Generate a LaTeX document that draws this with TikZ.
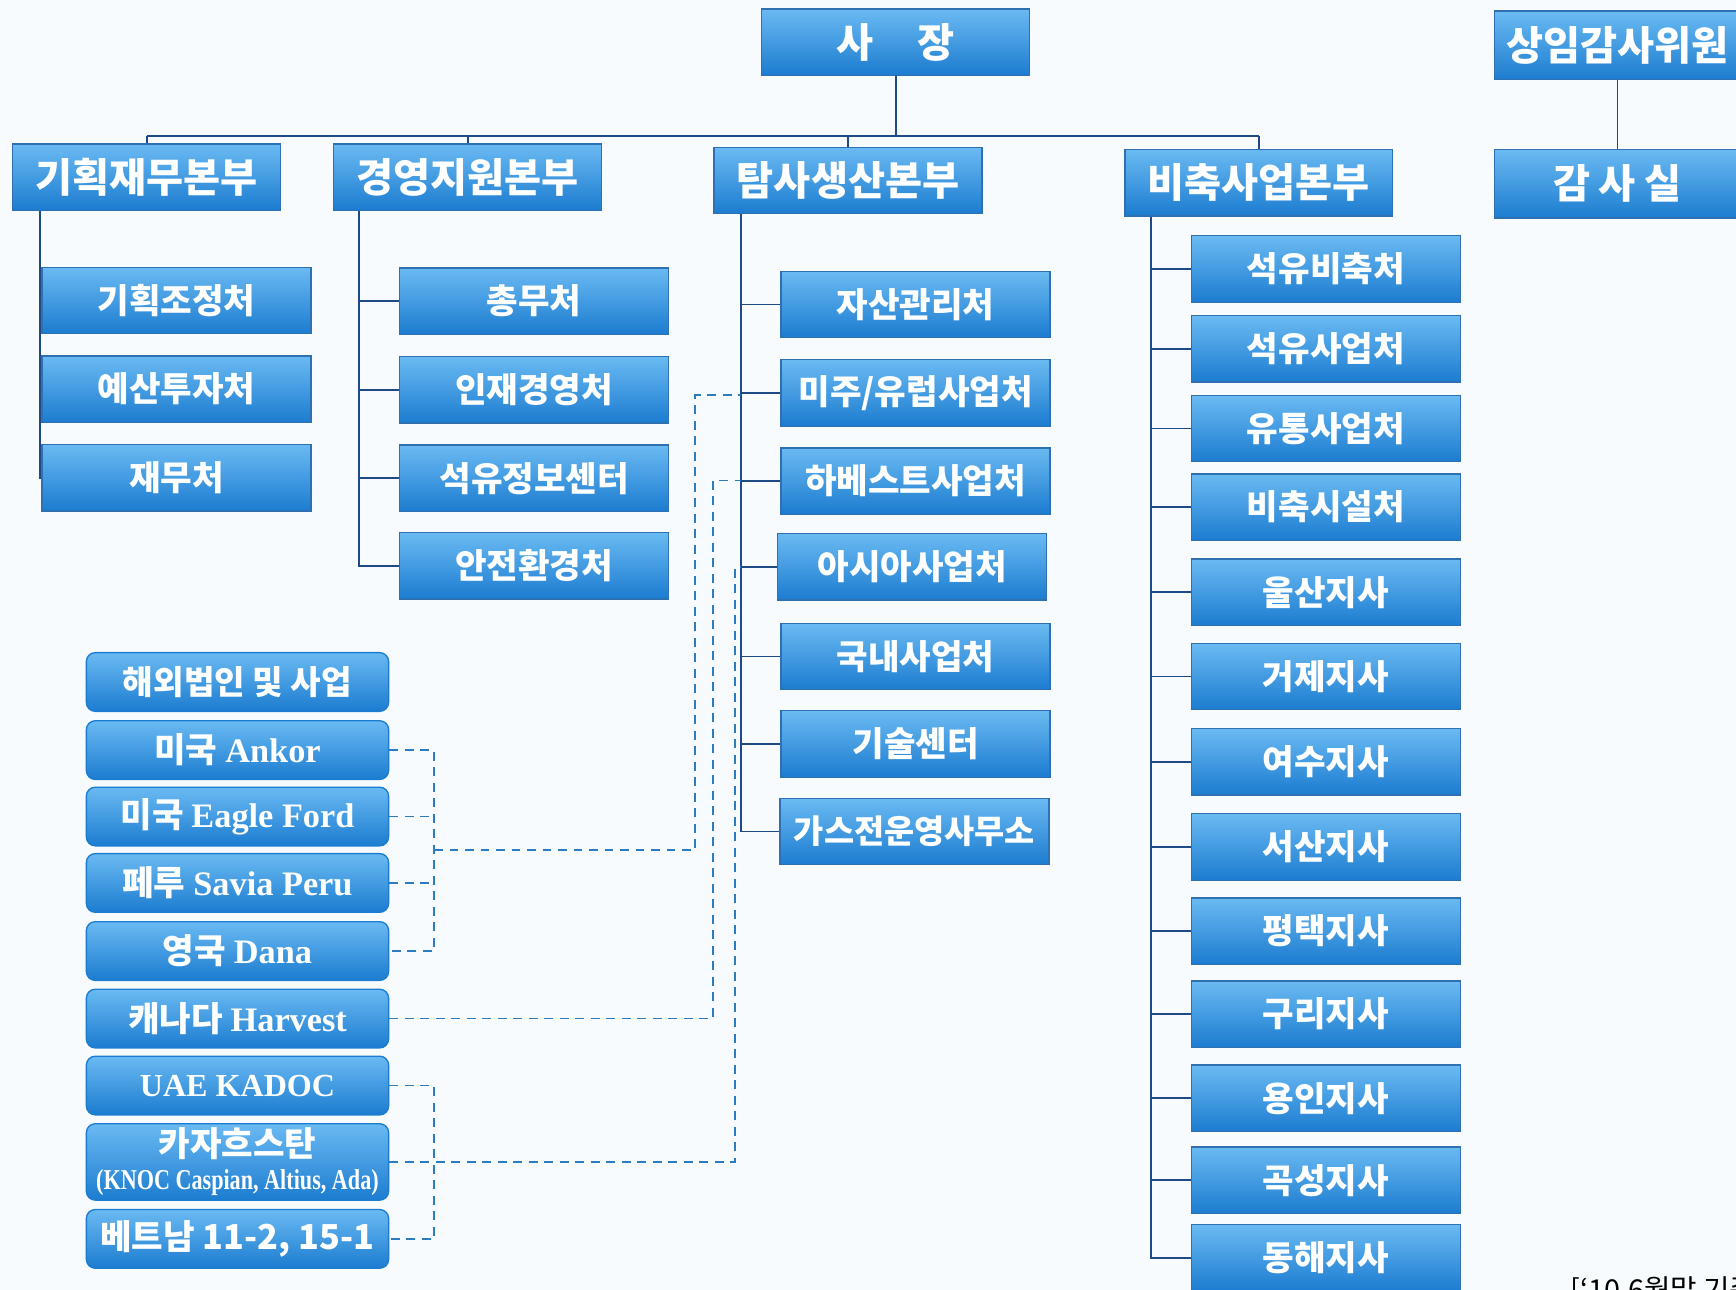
\documentclass[tikz,border=0pt]{standalone}
\usepackage{fontspec}
\setmainfont{Noto Sans CJK KR}
\newfontfamily\engfont{Liberation Serif}
\newfontfamily\engnarrow{Liberation Serif}[FakeStretch=0.77]
\definecolor{boxtop}{RGB}{106,186,242}
\definecolor{boxbot}{RGB}{28,124,208}
\definecolor{boxedge}{RGB}{46,112,178}
\definecolor{linkblue}{RGB}{30,74,134}
\definecolor{dashblue}{RGB}{44,124,192}
\definecolor{paper}{RGB}{247,251,254}

\begin{document}
\begin{tikzpicture}[
  x=0.5pt, y=-0.5pt,
  font=\fontsize{15.5}{17}\selectfont\bfseries,
  unit/.style={draw=boxedge, line width=0.6pt, top color=boxtop, bottom color=boxbot, text=white, inner sep=0pt},
  topbox/.style={unit, minimum width=121pt, minimum height=30pt, font=\fontsize{18.2}{20}\selectfont\bfseries},
  subbox/.style={unit, minimum width=121.5pt, minimum height=30pt},
  abroad/.style={unit, draw=boxbot, rounded corners=4pt, minimum width=136.5pt, minimum height=26.5pt},
  link/.style={draw=linkblue, line width=0.8pt},
  dlink/.style={draw=dashblue, line width=0.8pt, dash pattern=on 4pt off 3pt}
]
% Page and background
\useasboundingbox (0,0) rectangle (1568,1165);
\clip (0,0) rectangle (1568,1165);
\fill[paper] (0,0) rectangle (1568,1165);

% Top level
\node[topbox] (ceo) at (809,38) {사\hspace{20pt}장};
\node[topbox, minimum width=111pt, minimum height=31pt] (auditor) at (1461,41) {상임감사위원};
\node[topbox, minimum width=111pt, minimum height=31pt] (audit) at (1461,166) {감\hspace{4pt}사\hspace{4pt}실};

% Headquarters
\node[topbox] (plan) at (132.5,160) {기획재무본부};
\node[topbox] (mgmt) at (422.5,160) {경영지원본부};
\node[topbox] (expl) at (766,163) {탐사생산본부};
\node[topbox] (stock) at (1137,165) {비축사업본부};

% Bus from the president to the headquarters
\coordinate (bus) at (809,123);
\draw[link] (ceo.south) -- (bus);
\draw[link] (plan.north |- bus) -- (stock.north |- bus);
\draw[link] (plan.north) -- (plan.north |- bus);
\draw[link] (mgmt.north) -- (mgmt.north |- bus);
\draw[link] (expl.north) -- (expl.north |- bus);
\draw[link] (stock.north) -- (stock.north |- bus);
\draw[link] (auditor.south) -- (audit.north);

% Planning and finance
\node[subbox] (p1) at (159.5,271.5) {기획조정처};
\node[subbox] (p2) at (159.5,351.5) {예산투자처};
\node[subbox] (p3) at (159.5,431.5) {재무처};
\coordinate (spineA) at ([xshift=12.5pt]plan.south west);
\draw[link] (spineA) |- (p3.west);

% Management support
\node[subbox] (b1) at (482.5,272) {총무처};
\node[subbox] (b2) at (482.5,352) {인재경영처};
\node[subbox] (b3) at (482.5,432) {석유정보센터};
\node[subbox] (b4) at (482.5,511) {안전환경처};
\coordinate (spineB) at ([xshift=11.75pt]mgmt.south west);
\draw[link] (spineB) |- (b4.west);
\draw[link] (b1.west) -- (b1.west -| spineB);
\draw[link] (b2.west) -- (b2.west -| spineB);
\draw[link] (b3.west) -- (b3.west -| spineB);

% Exploration and production
\node[subbox] (e1) at (827,275) {자산관리처};
\node[subbox] (amer) at (827,355) {미주/유럽사업처};
\node[subbox] (harv) at (827,434.5) {하베스트사업처};
\node[subbox] (asia) at (824,512) {아시아사업처};
\node[subbox] (e5) at (827,593) {국내사업처};
\node[subbox] (e6) at (827,672) {기술센터};
\node[subbox, font=\fontsize{14.8}{16}\selectfont\bfseries] (e7) at (826,751) {가스전운영사무소};
\coordinate (spineC) at ([xshift=12.5pt]expl.south west);
\draw[link] (spineC) |- (e7.west);
\draw[link] (e1.west) -- (e1.west -| spineC);
\draw[link] (amer.west) -- (amer.west -| spineC);
\draw[link] (harv.west) -- (harv.west -| spineC);
\draw[link] (asia.west) -- (asia.west -| spineC);
\draw[link] (e5.west) -- (e5.west -| spineC);
\draw[link] (e6.west) -- (e6.west -| spineC);

% Stockpiling
\node[subbox] (s1) at (1197.5,243) {석유비축처};
\node[subbox] (s2) at (1197.5,315) {석유사업처};
\node[subbox] (s3) at (1197.5,387) {유통사업처};
\node[subbox] (s4) at (1197.5,458) {비축시설처};
\node[subbox] (s5) at (1197.5,535) {울산지사};
\node[subbox] (s6) at (1197.5,611) {거제지사};
\node[subbox] (s7) at (1197.5,688) {여수지사};
\node[subbox] (s8) at (1197.5,765) {서산지사};
\node[subbox] (s9) at (1197.5,841) {평택지사};
\node[subbox] (s10) at (1197.5,916) {구리지사};
\node[subbox] (s11) at (1197.5,992) {용인지사};
\node[subbox] (s12) at (1197.5,1066) {곡성지사};
\node[subbox] (s13) at (1197.5,1136) {동해지사};
\coordinate (spineD) at ([xshift=12pt]stock.south west);
\draw[link] (spineD) |- (s13.west);
\foreach \n in {s1,s2,s3,s4,s5,s6,s7,s8,s9,s10,s11,s12}
  \draw[link] (\n.west) -- (\n.west -| spineD);

% Overseas subsidiaries
\node[abroad, font=\fontsize{15}{17}\selectfont\bfseries] (ohead) at (214.5,616) {해외법인 및 사업};
\node[abroad] (ankor) at (214.5,677.5) {미국 {\engfont\bfseries Ankor}};
\node[abroad] (eagle) at (214.5,737.5) {미국 {\engfont\bfseries Eagle Ford}};
\node[abroad] (savia) at (214.5,797.5) {페루 {\engfont\bfseries Savia Peru}};
\node[abroad] (dana) at (214.5,859) {영국 {\engfont\bfseries Dana}};
\node[abroad] (harvest) at (214.5,920) {캐나다 {\engfont\bfseries Harvest}};
\node[abroad, font=\engfont\bfseries\fontsize{14.5}{16}\selectfont] (uae) at (214.5,980.5) {UAE KADOC};
\node[abroad, minimum height=34.5pt, align=center] (kaz) at (214.5,1049.5)
  {카자흐스탄\\[-2pt]{\engnarrow\bfseries\fontsize{13}{14}\selectfont (KNOC Caspian, Altius, Ada)}};
\node[abroad] (viet) at (214.5,1119) {베트남 11-2, 15-1};

% Dashed links to the business departments
\coordinate (g1) at (392,768);
\draw[dlink] (ankor.east) -| (g1 |- dana.east) -- (dana.east);
\draw[dlink] (eagle.east) -- (eagle.east -| g1);
\draw[dlink] (savia.east) -- (savia.east -| g1);
\coordinate (bend1) at (628,357);
\draw[dlink] (g1) -| (bend1) -- (bend1 -| spineC);
\coordinate (bend2) at (644,434);
\draw[dlink] (harvest.east) -| (bend2) -- (bend2 -| spineC);
\draw[dlink] (uae.east) -| (g1 |- viet.east) -- (viet.east);
\coordinate (bend3) at (664,512);
\draw[dlink] (kaz.east) -| (bend3) -- (bend3 -| spineC);

% Reference date, cut by the page edge
\node[anchor=north west, inner sep=0pt, text=black, font=\fontsize{13}{15}\selectfont\mdseries] (asof) at (1418,1153) {[‘10.6월말 기준]};
\end{tikzpicture}
\end{document}
